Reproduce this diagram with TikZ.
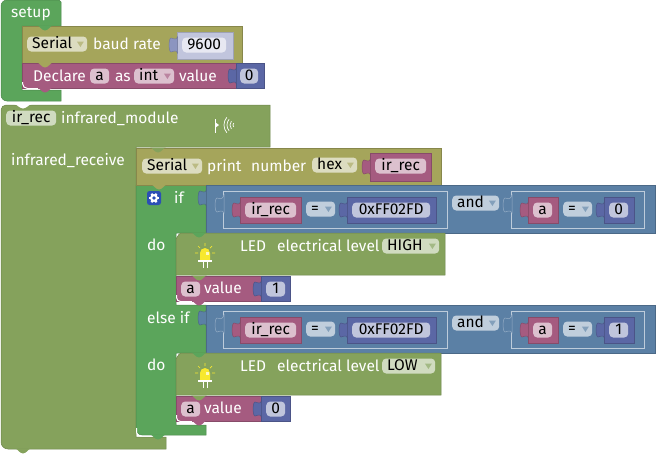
\documentclass[tikz,border=0pt]{standalone}
\usepackage{fontspec}
\setmainfont{Fira Sans}
\definecolor{blkgreen}{HTML}{5BA55B}
\definecolor{blkolive}{HTML}{85A25C}
\definecolor{blkserial}{HTML}{A5A55B}
\definecolor{blkvar}{HTML}{A55B80}
\definecolor{blkmath}{HTML}{5B67A5}
\definecolor{blklogic}{HTML}{5B80A5}
\definecolor{blkbulb}{HTML}{F7E82F}
\definecolor{blkgear}{HTML}{2B4FB5}
\tikzset{
  block/.style={fill=#1,draw=#1!82!black,line width=.5pt},
  frame/.style={fill=blklogic,draw=white!60!blklogic,line width=.5pt},
  lbl/.style={anchor=west,text=white,inner sep=0pt,text height=12pt,text depth=2pt},
  fld/.style={anchor=west,fill=white,fill opacity=.62,text opacity=1,text=black,rounded corners=4pt,
    inner ysep=1.5pt,inner xsep=0pt,minimum width=#1,text height=10pt,text depth=2pt,align=center},
  ddl/.style={anchor=west,fill=white,fill opacity=.62,text opacity=1,text=black,rounded corners=4pt,
    inner ysep=1.5pt,inner xsep=5pt,text width=#1,text height=10pt,text depth=2pt,align=left},
}
% puzzle tab on the left side of a block
\newcommand{\intab}[3]{\draw[block=#3,shift={(#1,#2)}] (.5,2) .. controls (-1,6) and (-4,3) .. (-6,3)
  .. controls (-8.5,3) and (-8.5,17) .. (-6,17) .. controls (-4,17) and (-1,14) .. (.5,18) -- cycle;}
% bump under a statement block
\newcommand{\bump}[3]{\fill[#3,shift={(#1,#2)}] (0,-.5) .. controls (3,0) and (4,4) .. (8,4.5)
  .. controls (12,4) and (13,0) .. (16,-.5) -- cycle;}
\newcommand{\ddarrow}[2]{\fill[#2!75!white,shift={(#1.east)}] (-10.5,-2.5) -- (-3.5,-2.5) -- (-7,3) -- cycle;}
% the led picture
\newcommand{\bulb}[2]{\begin{scope}[shift={(#1,#2)}]
  \fill[blkbulb] (-5,6) -- (-5,-1) arc (180:0:5pt) -- (5,6) -- cycle;
  \fill[white] (-7,6) rectangle (7,8);
  \draw[white,line width=.7pt] (-2,8) -- (-2,14) (2,8) -- (2,14);
  \fill[white!70!blkbulb] (1,-2) rectangle (3.5,1);
  \draw[blkbulb,line width=.7pt] (-10,-1) -- (-7,-1) (10,-1) -- (7,-1) (-7,-8) -- (-5,-6) (7,-8) -- (5,-6) (0,-11) -- (0,-8);
\end{scope}}
\begin{document}
\begin{tikzpicture}[x=1pt,y=-1pt,font=\fontsize{15.5}{17}\selectfont]
  \useasboundingbox (0,0) rectangle (658,453);
  % setup
  \draw[block=blkgreen] (1,50) [rounded corners=6pt] -- (1,0) [sharp corners] -- (59,0) -- (61,2) -- (61,26) -- (22,26) -- (22,90) -- (61,90) -- (61,101) [rounded corners=6pt] -- (1,101) -- cycle;
  \draw[block=blkserial] (22,26) rectangle (242,63);
  \draw[block=blkvar] (22,63) rectangle (236,88);
  \draw[white,line width=1pt,rounded corners=5pt] (22.5,82) -- (22.5,88.5) -- (38,88.5);
  \bump{37}{26}{blkgreen}
  \bump{37}{63}{blkserial}
  \bump{37}{88}{blkvar}
  \node[lbl] (setuptxt) at (11,12.5) {setup};
  \node[ddl=50pt] (serialA) at (27,44) {Serial};
  \ddarrow{serialA}{blkserial}
  \node[lbl] (baudtxt) at (93,44) {baud rate};
  \draw[block=blkmath!38!white] (177,32) rectangle (233,59);
  \intab{177}{35}{blkmath!70!white}
  \node[fld=44pt] (baudval) at (182,45) {9600};
  \node[lbl] (declaretxt) at (33,76) {Declare};
  \node[fld=19pt] (declarea) at (90,76) {a};
  \node[lbl] (astxt) at (115,76) {as};
  \node[ddl=30pt] (inttype) at (134,76) {int};
  \ddarrow{inttype}{blkvar}
  \node[lbl] (valuetxt) at (179,76) {value};
  \draw[block=blkmath] (236,63) rectangle (264,88);
  \intab{236}{66}{blkmath}
  \node[fld=18pt] (declareval) at (240,76) {0};
  % infrared module
  \draw[block=blkolive] (1,200) [rounded corners=5pt] -- (1,105) [sharp corners] -- (270,105) -- (270,147) -- (136,147) -- (136,437) -- (166,437) -- (166,449) [rounded corners=7pt] -- (1,449) -- cycle;
  \fill[white] (14,104) .. controls (18,105) and (19,108) .. (23,108.5) .. controls (27,108) and (28,105) .. (32,104) -- cycle;
  \bump{15}{449}{blkolive}
  \node[fld=50pt] (irrec) at (6,118) {ir\_rec};
  \node[lbl] (irmodule) at (61,118) {infrared\_module};
  \node[lbl] (irreceive) at (11,160) {infrared\_receive};
  \draw[white,line width=.7pt] (215,119) -- (215,133);
  \fill[white] (215,122) -- (219,125) -- (215,128) -- cycle;
  \foreach \r in {3,6,9,12} \draw[white,line width=.7pt] (236,125) ++(140:\r pt) arc (140:220:\r pt);
  % if block, drawn under its inputs
  \draw[block=blkgreen] (136,300) -- (136,185) -- (206,185) -- (206,233) -- (176,233) -- (176,305) -- (206,305) -- (206,353) -- (176,353) -- (176,425) -- (206,425) -- (206,435) [rounded corners=6pt] -- (136,435) -- cycle;
  \draw[white,line width=1pt,rounded corners=4pt] (136.5,428) -- (136.5,436) -- (152,436);
  \bump{150}{435}{blkgreen}
  \draw[block=blkserial] (136,148) rectangle (441,185);
  \bump{150}{148}{blkolive}
  \bump{151}{185}{blkserial}
  \node[ddl=50pt] (serialB) at (142,166) {Serial};
  \ddarrow{serialB}{blkserial}
  \node[lbl] (printtxt) at (207,166) {print};
  \node[lbl] (numbertxt) at (251,166) {number};
  \node[ddl=35pt] (hexmode) at (312,165) {hex};
  \ddarrow{hexmode}{blkserial}
  \draw[block=blkvar] (370,153) rectangle (431,181);
  \intab{370}{157}{blkvar}
  \node[fld=51pt] (printval) at (375,166) {ir\_rec};
  \node[fill=blkgear,rounded corners=2.5pt,minimum size=14pt,inner sep=0pt] (gearbtn) at (154,198) {};
  \foreach \a in {0,60,120} \draw[white,line width=2pt,shift={(gearbtn.center)}] (\a:-5pt) -- (\a:5pt);
  \fill[white] (gearbtn) circle (4pt);
  \fill[blkgear] (gearbtn) circle (1.8pt);
  \node[lbl] (iftxt) at (174,198) {if};
  \node[lbl] (elseiftxt) at (147,318) {else if};
  % the two branches only differ in their values
  \foreach \y/\val/\lvl/\lvlw/\rgt/\bval in {0/0/HIGH/47pt/445/1,120/1/LOW/43pt/441/0}{
    \begin{scope}[yshift=-\y pt]
      \draw[block=blklogic] (206,185) rectangle (655,233);
      \intab{206}{188}{blklogic}
      \draw[frame] (223,191) rectangle (447,228);
      \draw[frame,draw=white!35!blklogic] (224,195) .. controls (222,201) and (219,198) .. (217,198) .. controls (214.5,198) and (214.5,212) .. (217,212) .. controls (219,212) and (222,209) .. (224,213) -- cycle;
      \draw[block=blkvar] (240,197) rectangle (301,223);
      \intab{240}{200}{blkvar}
      \node[fld=51pt] (lhs\y) at (245,210) {ir\_rec};
      \node[ddl=19pt] (eq\y) at (306,209) {=};
      \ddarrow{eq\y}{blklogic}
      \draw[block=blkmath] (347,197) rectangle (436,223);
      \intab{347}{200}{blkmath}
      \node[fld=78pt] (rhs\y) at (352,210) {0xFF02FD};
      \node[ddl=37pt] (and\y) at (452,203) {and};
      \ddarrow{and\y}{blklogic}
      \draw[frame] (511,191) rectangle (644,228);
      \draw[frame,draw=white!35!blklogic] (512,195) .. controls (510,201) and (507,198) .. (505,198) .. controls (502.5,198) and (502.5,212) .. (505,212) .. controls (507,212) and (510,209) .. (512,213) -- cycle;
      \draw[block=blkvar] (528,197) rectangle (558,223);
      \intab{528}{200}{blkvar}
      \node[fld=19pt] (cmpa\y) at (533,210) {a};
      \node[ddl=19pt] (eqb\y) at (563,209) {=};
      \ddarrow{eqb\y}{blklogic}
      \draw[block=blkmath] (604,197) rectangle (634,223);
      \intab{604}{200}{blkmath}
      \node[fld=19pt] (cmpval\y) at (609,210) {\val};
      \node[lbl] (dolbl\y) at (147,245) {do};
      % led and assignment
      \draw[block=blkolive] (181,233) -- (\rgt,233) -- (\rgt,275) -- (176,275) -- (176,238) to[out=-90,in=180] (181,233) -- cycle;
      \bump{191}{233}{blkgreen}
      \bulb{205}{254}
      \node[lbl] (ledtxt\y) at (240,246) {LED};
      \node[lbl] (leveltxt\y) at (277,246) {electrical level};
      \node[ddl=\lvlw] (lvl\y) at (382,246) {\lvl};
      \ddarrow{lvl\y}{blkolive}
      \draw[block=blkvar] (176,276) rectangle (261,301);
      \draw[white,line width=1pt,rounded corners=4pt] (176.5,295) -- (176.5,301.5) -- (192,301.5);
      \bump{191}{276}{blkolive}
      \bump{191}{301}{blkvar}
      \node[fld=19pt] (seta\y) at (181,289) {a};
      \node[lbl] (setval\y) at (204,288) {value};
      \draw[block=blkmath] (261,276) rectangle (290,301);
      \intab{261}{279}{blkmath}
      \node[fld=19pt] (setnum\y) at (266,289) {\bval};
    \end{scope}
  }
\end{tikzpicture}
\end{document}
